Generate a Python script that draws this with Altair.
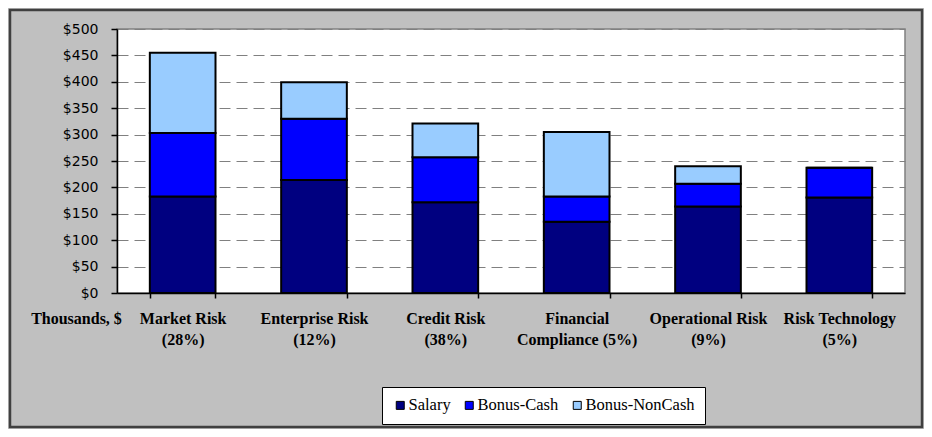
import altair as alt
import pandas as pd

categories = [
    "Market Risk|(28%)",
    "Enterprise Risk|(12%)",
    "Credit Risk|(38%)",
    "Financial|Compliance (5%)",
    "Operational Risk|(9%)",
    "Risk Technology|(5%)",
]
series = ["Salary", "Bonus-Cash", "Bonus-NonCash"]
salary = [183, 214, 172, 135, 164, 181]
bonus_cash = [120, 116, 85, 48, 43, 56]
bonus_noncash = [152, 69, 64, 122, 33, 0]
colors = ["#000080", "#0000FF", "#99CCFF"]
y_ticks = list(range(0, 501, 50))

rows = []
for i, c in enumerate(categories):
    for j, (s, vals) in enumerate(zip(series, [salary, bonus_cash, bonus_noncash])):
        rows.append({"category": c, "series": s, "order": j, "value": vals[i]})
df = pd.DataFrame(rows)

W, H = 788, 264
PL, PT, PR, PB = 109, 21, 19, 136

bars = alt.Chart(df).mark_bar(stroke="black", strokeWidth=2).encode(
    x=alt.X(
        "category:N",
        sort=categories,
        scale=alt.Scale(paddingInner=0.5, paddingOuter=0.25),
        axis=alt.Axis(
            title="Thousands, $",
            titleX=-41,
            titleY=25,
            titleAlign="center",
            titleBaseline="middle",
            titleFont="Liberation Serif",
            titleFontSize=16,
            titleFontWeight="bold",
            titleColor="black",
            labelExpr="split(datum.label, '|')",
            labelAngle=0,
            labelFont="Liberation Serif",
            labelFontSize=16,
            labelFontWeight="bold",
            labelColor="black",
            labelLineHeight=21,
            labelBaseline="top",
            labelPadding=12,
            labelOverlap=False,
            tickBand="extent",
            tickSize=5,
            tickColor="black",
            tickWidth=1.5,
            domainColor="black",
            domainWidth=1.5,
            grid=False,
        ),
    ),
    y=alt.Y(
        "value:Q",
        stack="zero",
        scale=alt.Scale(domain=[0, 500]),
        axis=alt.Axis(
            values=y_ticks,
            labelExpr="'$' + datum.value",
            title=None,
            labelFont="DejaVu Sans",
            labelFontSize=14,
            labelColor="black",
            labelPadding=13,
            tickSize=6,
            tickColor="black",
            tickWidth=1.5,
            domainColor="black",
            domainWidth=1.5,
            gridColor="#808080",
            gridDash=[11, 6],
            gridWidth=1,
        ),
    ),
    color=alt.Color(
        "series:N",
        scale=alt.Scale(domain=series, range=colors),
        legend=alt.Legend(
            title=None,
            orient="none",
            legendX=265,
            legendY=358,
            direction="horizontal",
            fillColor="white",
            strokeColor="black",
            padding=10,
            symbolType="square",
            symbolSize=64,
            symbolStrokeColor="black",
            symbolStrokeWidth=1,
            labelFont="Liberation Serif",
            labelFontSize=16.5,
            labelColor="black",
            labelOffset=0,
            columnPadding=10,
        ),
    ),
    order=alt.Order("order:Q"),
)

border = alt.Chart(alt.Data(values=[{}])).mark_rect(
    fill="transparent", stroke="#404040", strokeWidth=2.5
).encode(
    x=alt.value(-PL + 2),
    x2=alt.value(W + PR - 2),
    y=alt.value(-PT + 2),
    y2=alt.value(H + PB - 2),
)

chart = alt.layer(bars, border).properties(
    width=W,
    height=H,
    padding={"left": PL, "top": PT, "right": PR, "bottom": PB},
    autosize=alt.AutoSizeParams(type="none"),
    background="#C0C0C0",
).configure_view(fill="white", stroke="#808080", strokeWidth=1.5)

chart.save("out.html", embed_options={"renderer": "svg", "actions": False})
